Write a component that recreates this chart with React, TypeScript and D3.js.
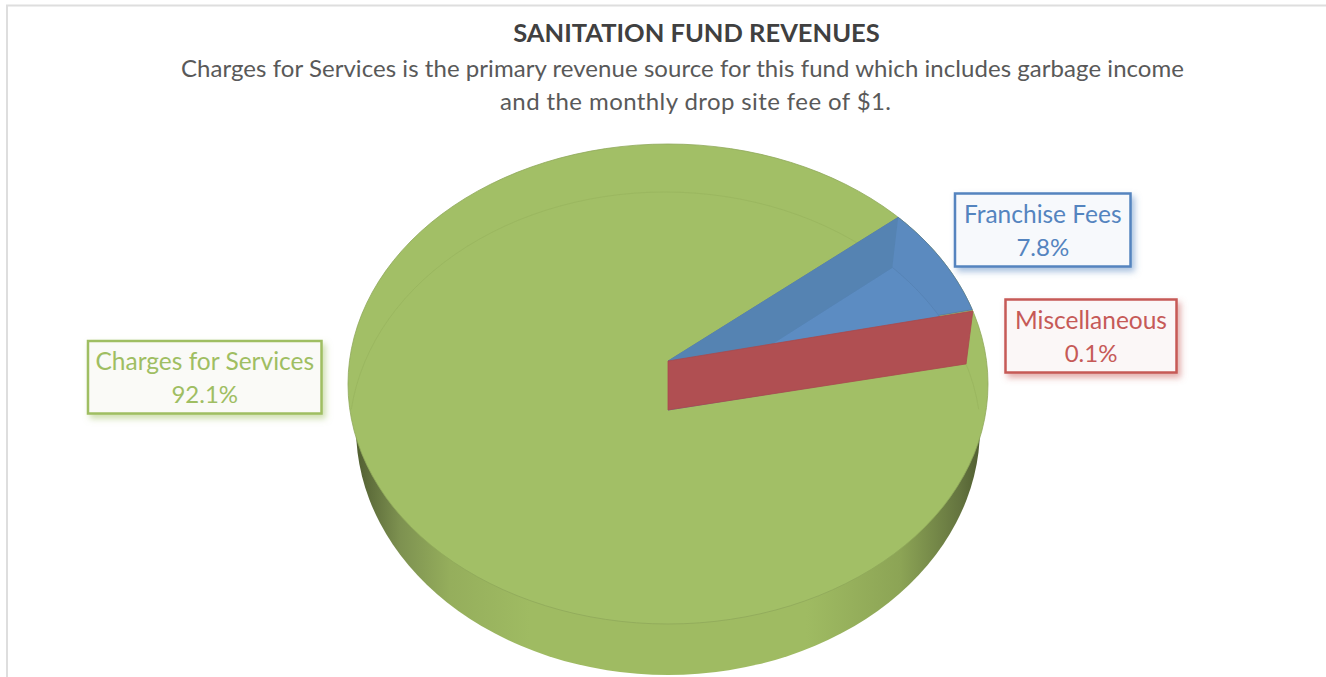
import React from "react";
import * as d3 from "d3";

const categories = ["Franchise Fees", "Miscellaneous", "Charges for Services"];
const shares = [7.8, 0.1, 92.1];
const faceColors = ["#5b8abf", "#b04f52", "#a2bf66"];
const labelColors = ["#5484bf", "#c65a57", "#9fbe62"];
const labelFills = ["#f7f9fc", "#fbf7f7", "#fafaf7"];
const labelBoxes = [
  { x: 955, y: 193.5, w: 175.5, h: 73 },
  { x: 1005.5, y: 299.5, w: 171, h: 73 },
  { x: 88, y: 341, w: 233.5, h: 72.5 },
];
const titleText = "SANITATION FUND REVENUES";
const subtitleLines = [
  { text: "Charges for Services is the primary revenue source for this fund which includes garbage income", x: 682.5, width: 1003 },
  { text: "and the monthly drop site fee of $1.", x: 695.5, width: 391 },
];

const FIRST_SLICE_ANGLE = (46 * Math.PI) / 180;
// Foreshortening of the wedge's sweep on the tilted disc.
const SWEEP_SQUEEZE = 0.925;
const topRim = { cx: 668, cy: 384, rx: 320, ry: 240 };
const innerRim = { cx: 665, cy: 439, rx: 316, ry: 247 };
const underside = { cx: 668, cy: 428, rx: 312, ry: 247 };
const hub: [number, number] = [668, 361];
const hubBelow: [number, number] = [668, 410];

type Rim = typeof topRim;
const viewAngle = (a: number) => FIRST_SLICE_ANGLE + (a - FIRST_SLICE_ANGLE) * SWEEP_SQUEEZE;
const onRim = (r: Rim, a: number): [number, number] => [
  r.cx + r.rx * Math.sin(a),
  r.cy - r.ry * Math.cos(a),
];
const rimPath = (r: Rim, from: number, to: number) =>
  d3.range(0, 61).map((i) => onRim(r, from + ((to - from) * i) / 60));
const poly = d3.line();
const closed = (pts: [number, number][]) => poly(pts) + "Z";

const FONT = "Lato, 'Open Sans', sans-serif";

export default function App() {
  const slices = d3
    .pie<number>()
    .sort(null)
    .startAngle(FIRST_SLICE_ANGLE)
    .endAngle(FIRST_SLICE_ANGLE + 2 * Math.PI)(shares);
  const blueFrom = viewAngle(slices[0].startAngle);
  const blueTo = viewAngle(slices[0].endAngle);
  const redTo = viewAngle(slices[1].endAngle);

  return (
    <svg
      width={1326}
      height={677}
      viewBox="0 0 1326 677"
      style={{ position: "absolute", left: 0, top: 0, display: "block", background: "#fff" }}
    >
      <defs>
        <linearGradient id="sideShade" gradientUnits="userSpaceOnUse" x1={354} x2={982} y1={0} y2={0}>
          <stop offset="0" stopColor="#4f5c30" />
          <stop offset="0.033" stopColor="#64743f" />
          <stop offset="0.073" stopColor="#7d9150" />
          <stop offset="0.153" stopColor="#95ae5c" />
          <stop offset="0.28" stopColor="#9fbb62" />
          <stop offset="0.72" stopColor="#9fbb62" />
          <stop offset="0.87" stopColor="#8ca455" />
          <stop offset="0.965" stopColor="#64743f" />
          <stop offset="1" stopColor="#4f5c30" />
        </linearGradient>
        <clipPath id="faceClip">
          <ellipse cx={topRim.cx} cy={topRim.cy} rx={topRim.rx} ry={topRim.ry} />
        </clipPath>
        {labelColors.map((c, i) => (
          <filter key={c} id={`labelShadow${i}`} x="-10%" y="-20%" width="125%" height="150%">
            <feDropShadow dx={3} dy={4} stdDeviation={3} floodColor={c} floodOpacity={0.5} />
          </filter>
        ))}
      </defs>

      {/* frame of the chart area */}
      <path d="M7,677V5.5H1326" fill="none" stroke="#dedede" strokeWidth={2} />

      <text x={696.5} y={42} textAnchor="middle" fontFamily={FONT} fontSize={25.5} fontWeight={700} fill="#404040">
        {titleText}
      </text>
      {subtitleLines.map((line, i) => (
        <text
          key={line.text}
          x={line.x}
          y={77 + i * 33}
          textAnchor="middle"
          textLength={line.width}
          lengthAdjust="spacing"
          fontFamily={FONT}
          fontSize={24}
          fill="#595959"
        >
          {line.text}
        </text>
      ))}

      {/* disc */}
      <ellipse cx={underside.cx} cy={underside.cy} rx={underside.rx} ry={underside.ry} fill="url(#sideShade)" />
      <ellipse cx={topRim.cx} cy={topRim.cy} rx={topRim.rx} ry={topRim.ry} fill={faceColors[2]} stroke="#8fa85a" strokeWidth={0.8} />
      <path
        d={poly(rimPath(innerRim, -1.45, 1.45)) as string}
        clipPath="url(#faceClip)"
        fill="none"
        stroke="#8aa552"
        strokeWidth={1}
        opacity={0.3}
      />

      {/* cut-away sector of the two small slices */}
      <path d={closed([hub, ...rimPath(topRim, blueFrom, blueTo)])} fill={faceColors[0]} stroke="#55799f" strokeWidth={0.8} />
      <path
        d={closed([hubBelow, ...rimPath(innerRim, blueFrom, blueTo)])}
        fill="#5c8cc2"
        stroke="#5582b3"
        strokeWidth={0.8}
      />
      <path d={closed([hub, onRim(topRim, blueFrom), onRim(innerRim, blueFrom), hubBelow])} fill="#5583b2" />
      <path
        d={closed([hub, onRim(topRim, redTo), onRim(innerRim, redTo), hubBelow])}
        fill={faceColors[1]}
        stroke="#a84a4d"
        strokeWidth={0.8}
      />

      {/* value labels */}
      {categories.map((name, i) => {
        const b = labelBoxes[i];
        return (
          <g key={name}>
            <rect
              x={b.x}
              y={b.y}
              width={b.w}
              height={b.h}
              fill={labelFills[i]}
              stroke={labelColors[i]}
              strokeWidth={2.5}
              filter={`url(#labelShadow${i})`}
            />
            <text x={b.x + b.w / 2} y={b.y + 29} textAnchor="middle" fontFamily={FONT} fontSize={24.5} fill={labelColors[i]}>
              {name}
            </text>
            <text x={b.x + b.w / 2} y={b.y + 62} textAnchor="middle" fontFamily={FONT} fontSize={24} fill={labelColors[i]}>
              {`${shares[i].toFixed(1)}%`}
            </text>
          </g>
        );
      })}
    </svg>
  );
}
